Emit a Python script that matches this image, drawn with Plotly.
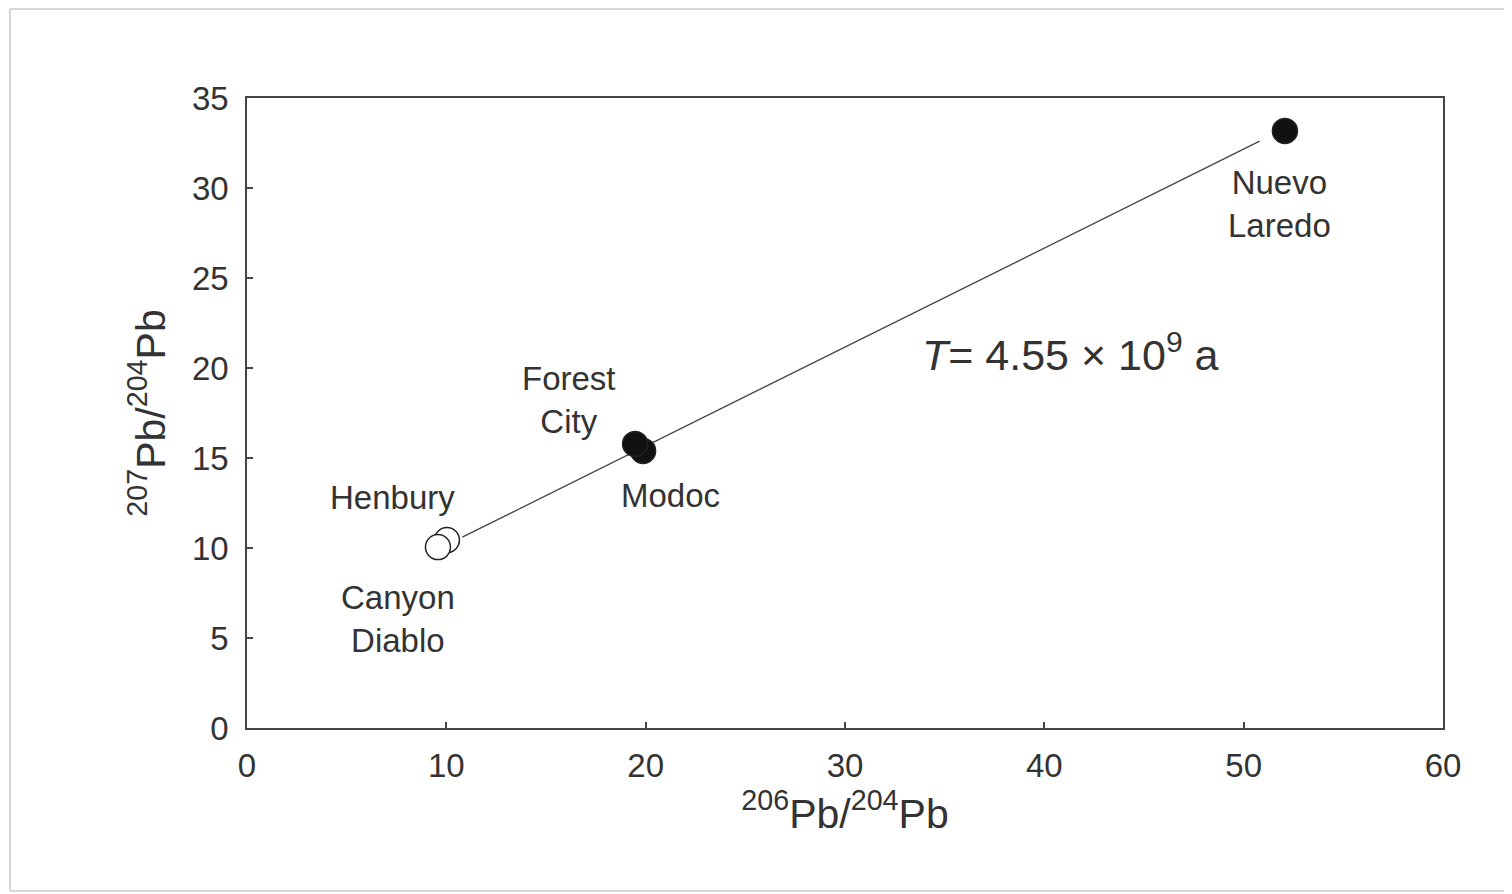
import plotly.graph_objects as go

# Meteorite Pb isotope data
names = ["Henbury", "Canyon Diablo", "Modoc", "Forest City", "Nuevo Laredo"]
pb206_204 = [10.03, 9.58, 19.87, 19.47, 52.07]
pb207_204 = [10.44, 10.05, 15.39, 15.78, 33.17]
filled = [False, False, True, True, True]

# Isochron line endpoints
iso_x = [10.8, 50.8]
iso_y = [10.6, 32.6]

# Label positions
label_text = ["Henbury", "Canyon<br>Diablo", "Modoc", "Forest<br>City", "Nuevo<br>Laredo"]
label_x = [7.32, 7.58, 21.27, 16.16, 51.82]
label_y = [12.83, 6.06, 12.89, 18.2, 29.1]

x_ticks = [0, 10, 20, 30, 40, 50, 60]
y_ticks = [0, 5, 10, 15, 20, 25, 30, 35]

FONT = "Liberation Sans, Arial, sans-serif"
TXT = "#333333"

# plot-area geometry (figure pixels)
L, R, T, B = 239, 1435, 90, 720
W, H = 1512, 894

fig = go.Figure()
fig.add_trace(go.Scatter(x=iso_x, y=iso_y, mode="lines",
                         line=dict(color="#444444", width=1.3),
                         showlegend=False, hoverinfo="skip"))
for n, x, y, f in zip(names, pb206_204, pb207_204, filled):
    fig.add_trace(go.Scatter(
        x=[x], y=[y], mode="markers", name=n, showlegend=False,
        marker=dict(size=25, symbol="circle",
                    color="#111111" if f else "white",
                    line=dict(color="#222222", width=1.5))))

for t, x, y in zip(label_text, label_x, label_y):
    fig.add_annotation(x=x, y=y, xref="x", yref="y", text=t, showarrow=False,
                       xanchor="center", yanchor="middle",
                       font=dict(family=FONT, size=33, color=TXT))

fig.add_annotation(x=41.3, y=20.89, xref="x", yref="y",
                   text="<i>T</i>= 4.55 × 10<sup>9</sup> a", showarrow=False,
                   xanchor="center", yanchor="middle",
                   font=dict(family=FONT, size=43, color=TXT))

axis_common = dict(showgrid=False, zeroline=False, showline=True, mirror=True,
                   linecolor="#444444", linewidth=1.5, ticks="inside", ticklen=6,
                   tickcolor="#444444", tickwidth=1.5,
                   tickfont=dict(family=FONT, size=33, color=TXT))

fig.update_xaxes(range=[0, 60], tickvals=x_ticks, ticklabelstandoff=8,
                 title=dict(text="<sup>206</sup>Pb/<sup>204</sup>Pb",
                            font=dict(family=FONT, size=41, color=TXT), standoff=14),
                 **axis_common)
fig.update_yaxes(range=[0, 35], tickvals=y_ticks, ticklabelstandoff=10,
                 title=dict(text="<sup>207</sup>Pb/<sup>204</sup>Pb",
                            font=dict(family=FONT, size=41, color=TXT), standoff=14),
                 **axis_common)

# faint outer border of the scanned figure
for x0, y0, x1, y1 in [(2, 1, W, 1), (2, 1, 2, 883), (2, 883, W, 883)]:
    fig.add_shape(type="line", xref="paper", yref="paper",
                  x0=(x0 - L) / (R - L), x1=(x1 - L) / (R - L),
                  y0=(B - y0) / (B - T), y1=(B - y1) / (B - T),
                  line=dict(color="#c8c8c8", width=1.5))

fig.update_layout(width=W, height=H, autosize=False,
                  margin=dict(l=L, r=W - R, t=T, b=H - B),
                  paper_bgcolor="white", plot_bgcolor="white")

fig.write_html("out.html")
